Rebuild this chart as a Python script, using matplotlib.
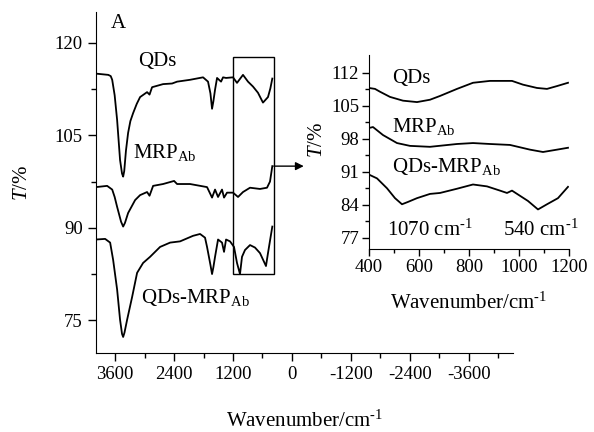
import numpy as np
import matplotlib
matplotlib.use('Agg')
import matplotlib.pyplot as plt
import matplotlib.ticker as tick
from matplotlib.patches import Rectangle

plt.rcParams['font.family'] = 'Liberation Serif'
plt.rcParams['mathtext.fontset'] = 'custom'
plt.rcParams['mathtext.rm'] = 'Liberation Serif'
plt.rcParams['mathtext.it'] = 'Liberation Serif:italic'
plt.rcParams['axes.unicode_minus'] = False

# FTIR spectra, full range (wavenumber in cm-1, transmittance in %)
wn_qds = [3990, 3740, 3690, 3660, 3610, 3560, 3500, 3460, 3437, 3415, 3380, 3336, 3290, 3234,
          3160, 3092, 2950, 2900, 2848, 2624, 2440, 2339, 2075, 1810, 1709, 1660, 1627, 1600,
          1566, 1525, 1444, 1403, 1342, 1200, 1119, 997, 895, 793, 692, 590, 488, 440, 400]
t_qds = [115.0, 114.8, 114.6, 114.0, 111.5, 107.5, 101.0, 98.8, 98.3, 99.2, 102.5, 105.4, 107.3,
         108.6, 110.1, 111.2, 112.0, 111.6, 112.8, 113.3, 113.4, 113.7, 114.0, 114.4, 113.7,
         111.8, 109.3, 110.5, 112.4, 114.3, 113.7, 114.4, 114.3, 114.4, 113.5, 114.8, 113.7,
         112.9, 111.9, 110.3, 111.2, 112.6, 114.2]

wn_mrp = [3990, 3763, 3660, 3610, 3560, 3480, 3437, 3400, 3336, 3193, 3092, 2950, 2900, 2827,
          2624, 2400, 2339, 2075, 1729, 1627, 1566, 1505, 1424, 1383, 1322, 1200, 1098, 997,
          854, 651, 508, 447, 400]
t_mrp = [96.6, 96.8, 96.2, 95.0, 93.4, 91.0, 90.2, 90.8, 92.4, 94.5, 95.3, 95.8, 95.2, 96.8,
         97.1, 97.6, 97.1, 97.1, 96.6, 94.9, 96.2, 95.0, 96.2, 94.9, 95.7, 95.7, 95.0, 95.8,
         96.5, 96.3, 96.5, 97.5, 100.0]

wn_mix = [3990, 3804, 3702, 3641, 3560, 3500, 3460, 3437, 3410, 3356, 3254, 3153, 3031, 2888,
          2685, 2481, 2278, 2014, 1871, 1770, 1729, 1660, 1627, 1600, 1566, 1505, 1424, 1383,
          1342, 1261, 1180, 1119, 1058, 1017, 956, 854, 753, 651, 529, 488, 400]
t_mix = [88.1, 88.2, 87.6, 84.8, 80.0, 75.1, 72.8, 72.3, 73.0, 75.1, 78.8, 82.7, 84.3, 85.3,
         86.9, 87.6, 87.8, 88.7, 89.0, 88.4, 86.9, 84.0, 82.5, 83.6, 85.3, 88.1, 87.6, 86.1,
         88.1, 87.8, 86.9, 84.3, 82.5, 85.3, 86.4, 87.2, 86.8, 85.9, 83.8, 85.9, 90.2]

# Enlarged 400-1200 cm-1 region
wn_qds_z = [400, 424, 444, 484, 536, 592, 644, 684, 752, 816, 884, 972, 1016, 1072, 1112, 1152, 1196]
t_qds_z = [108.8, 108.6, 108.0, 106.9, 106.1, 105.8, 106.3, 107.1, 108.6, 109.9, 110.3, 110.3,
           109.5, 108.8, 108.6, 109.2, 109.9]

wn_mrp_z = [400, 416, 456, 512, 564, 644, 752, 816, 884, 964, 1044, 1096, 1152, 1196]
t_mrp_z = [100.3, 100.5, 98.8, 97.1, 96.5, 96.3, 96.9, 97.1, 96.9, 96.7, 95.7, 95.2, 95.7, 96.1]

wn_mix_z = [400, 432, 472, 504, 532, 556, 592, 644, 684, 752, 816, 872, 924, 952, 972, 1004,
            1036, 1076, 1112, 1156, 1196]
t_mix_z = [90.4, 89.6, 87.5, 85.4, 84.1, 84.6, 85.4, 86.3, 86.5, 87.4, 88.3, 87.9, 87.0, 86.5,
           87.0, 85.9, 84.8, 83.0, 84.1, 85.4, 87.8]

inv_cm = 'cm$^{\\mathrm{\u2010}1}$'

fig = plt.figure(figsize=(5.94, 4.32), dpi=100)
ax = fig.add_axes([0.1616, 0.1829, 0.702, 0.7894])
for w, t in [(wn_qds, t_qds), (wn_mrp, t_mrp), (wn_mix, t_mix)]:
    ax.plot(w, t, color='k', lw=1.3)
ax.set_xlim(3990, -4500)
ax.set_ylim(69.7, 125)
ax.spines['top'].set_visible(False)
ax.spines['right'].set_visible(False)
ax.xaxis.set_major_locator(tick.MultipleLocator(1200))
ax.xaxis.set_minor_locator(tick.MultipleLocator(600))
ax.yaxis.set_major_locator(tick.FixedLocator([75, 90, 105, 120]))
ax.yaxis.set_minor_locator(tick.MultipleLocator(7.5))
ax.tick_params(which='major', direction='out', length=6, width=1, labelsize=13.5)
ax.tick_params(which='minor', direction='out', length=3.5, width=1)
ax.set_xlabel('Wavenumber/' + inv_cm, fontsize=15, labelpad=20)
ax.set_ylabel('$T$/%', fontsize=15, labelpad=16)

ax.text(3540, 123.2, 'A', fontsize=15, ha='center', va='center')
ax.text(3132, 116.9, 'QDs', fontsize=15, va='center')
ax.text(3234, 101.3, 'MRP$_{\\mathrm{Ab}}$', fontsize=15, va='baseline')
ax.text(3071, 77.8, 'QDs-MRP$_{\\mathrm{Ab}}$', fontsize=15, va='baseline')

# frame around the enlarged region and pointer to the inset
ax.add_patch(Rectangle((1200, 82.5), -830, 35.2, fill=False, ec='k', lw=1))
ax.annotate('', xy=(-240, 100), xytext=(370, 100),
            arrowprops=dict(arrowstyle='-|>', color='k', lw=1, mutation_scale=12,
                            shrinkA=0, shrinkB=0))

ins = fig.add_axes([0.6212, 0.4236, 0.3367, 0.4491])
for w, t in [(wn_qds_z, t_qds_z), (wn_mrp_z, t_mrp_z), (wn_mix_z, t_mix_z)]:
    ins.plot(w, t, color='k', lw=1.3)
ins.set_xlim(400, 1200)
ins.set_ylim(74.6, 115.8)
ins.spines['top'].set_visible(False)
ins.spines['right'].set_visible(False)
ins.xaxis.set_major_locator(tick.MultipleLocator(200))
ins.xaxis.set_minor_locator(tick.MultipleLocator(100))
ins.yaxis.set_major_locator(tick.FixedLocator([77, 84, 91, 98, 105, 112]))
ins.yaxis.set_minor_locator(tick.FixedLocator([80.5, 87.5, 94.5, 101.5, 108.5]))
ins.tick_params(which='major', direction='out', length=5, width=1, labelsize=13.5, pad=2)
ins.tick_params(which='minor', direction='out', length=3, width=1)
ins.set_xlabel('Wavenumber/' + inv_cm, fontsize=15, labelpad=12)
ins.set_ylabel('$T$/%', fontsize=15, labelpad=2)
ins.yaxis.set_label_coords(-0.21, 0.56)

ins.text(492, 109.9, 'QDs', fontsize=15, va='baseline')
ins.text(492, 99.5, 'MRP$_{\\mathrm{Ab}}$', fontsize=15, va='baseline')
ins.text(492, 91.0, 'QDs-MRP$_{\\mathrm{Ab}}$', fontsize=15, va='baseline')
ins.text(472, 77.4, '1070 ' + inv_cm, fontsize=15, va='baseline')
ins.text(936, 77.4, '540 ' + inv_cm, fontsize=15, va='baseline')

fig.savefig('out.png', dpi=100)
